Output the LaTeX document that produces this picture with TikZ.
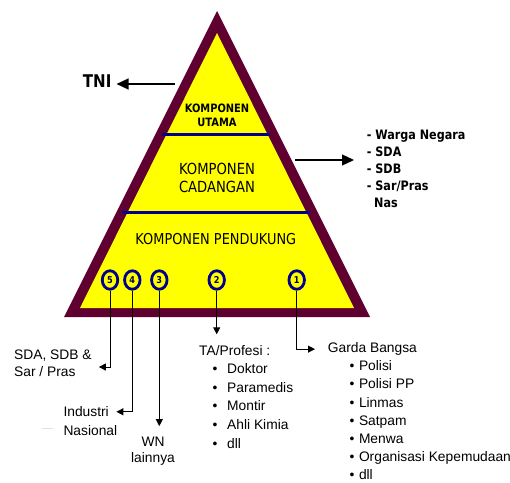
\documentclass[tikz,border=0pt]{standalone}
\usepackage{fontspec}
\setmainfont{Liberation Sans}
\newfontfamily\tahoma{DejaVu Sans}[FakeStretch=0.86]
\usetikzlibrary{arrows.meta, calc, positioning, shapes.geometric}

\definecolor{pyrmaroon}{RGB}{96,0,48}
\definecolor{pyrnavy}{RGB}{0,0,140}
\definecolor{pyryellow}{RGB}{255,255,0}

\tikzset{
  lbl/.style={inner sep=0pt, font=\fontsize{13.8}{17.5}\selectfont},
  rlist/.style={inner sep=0pt, font=\tahoma\bfseries\fontsize{13}{15}\selectfont},
  layer/.style={align=center, inner sep=0pt},
  num/.style={ellipse, draw=pyrnavy, line width=2.8pt, fill=pyryellow, inner sep=0pt,
    minimum width=15.5pt, minimum height=18.5pt,
    font=\tahoma\bfseries\fontsize{9.5}{9.5}\selectfont, text=pyrnavy!50!black},
  divider/.style={pyrnavy, line width=3pt},
  arr/.style={-{Triangle[length=7pt,width=7pt]}, line width=0.9pt},
  bigarr/.style={-{Triangle[length=12pt,width=11pt]}, line width=1.3pt}
}

\begin{document}
\begin{tikzpicture}[x=1pt, y=-1pt]
    \useasboundingbox (0,0) rectangle (510,482);

    % Pyramid
    \fill[pyrmaroon] (217,11) -- (64,317) -- (370,317) -- cycle;
    \fill[pyryellow] (217,33) -- (80,308) -- (354,308) -- cycle;
    \draw[divider] (162,134) -- (270,134);
    \draw[divider] (122,212) -- (310,212);

    % Layers
    \node[layer, font=\tahoma\bfseries\fontsize{11.5}{14.3}\selectfont] (utama) at (217,115.3) {KOMPONEN\\UTAMA};
    \node[layer, font=\tahoma\fontsize{15.3}{17.3}\selectfont] (cadangan) at (217,177.8) {KOMPONEN\\CADANGAN};
    \node[layer, font=\tahoma\fontsize{15}{17}\selectfont] (pendukung) at (215.8,239.5) {KOMPONEN PENDUKUNG};

    % Numbers
    \foreach \n/\x in {5/110, 4/132.3, 3/159.3, 2/216.7, 1/296.7}
        \node[num] (c\n) at (\x,280) {\n};

    % TNI
    \node[inner sep=0pt, anchor=base west, font=\tahoma\bfseries\fontsize{17.5}{17.5}\selectfont] (tni) at (82.7,87.3) {TNI};
    \coordinate (tni start) at (175,84);
    \draw[bigarr] (tni start) -- ([xshift=5pt]tni.east |- tni start);

    % Cadangan list
    \foreach \t [count=\i] in {- Warga Negara, - SDA, - SDB, - Sar/Pras}
        \node[rlist, anchor=base west] (rl\i) at (366.7,{139.3+17.1*(\i-1)}) {\t};
    \node[rlist, anchor=base west] (rl5) at (374,207) {Nas};
    \coordinate (cad start) at (295,160);
    \coordinate (cad tip) at (354,160);
    \draw[bigarr] (cad start) -- (cad tip);

    % 5
    \node[lbl, align=left, anchor=west] (sda) at (14,363) {SDA, SDB \&\\Sar / Pras};
    \draw[arr] (c5) |- ([xshift=7pt,yshift=-4pt]sda.east);

    % 4
    \node[lbl, anchor=base west] (ind1) at (63.3,416.7) {Industri};
    \node[lbl, anchor=base west] (ind2) at (63.3,435) {Nasional};
    \draw[arr] (c4) |- ([xshift=7.4pt]ind1.east);
    \draw[black!12, line width=1pt] (41.7,428.3) -- (53.3,428.3);

    % 3
    \node[lbl, align=center, anchor=north, font=\fontsize{13.8}{16}\selectfont] (wn) at (153,437.1) {WN\\lainnya};
    \draw[arr] (c3) -- ($(c3 |- wn.north)+(0,-11)$);

    % 2
    \node[lbl, anchor=base west] (ta) at (199,355) {TA/Profesi :};
    \draw[arr] (c2) -- ($(c2 |- ta.north)+(0,-10.5)$);
    \foreach \t [count=\i] in {Doktor, Paramedis, Montir, Ahli Kimia, dll}
        \node[lbl, anchor=base west] (ta\i) at (212.3,{355+18.6*\i}) {\makebox[14.7pt][l]{\textbullet}\t};

    % 1
    \node[lbl, anchor=base west] (garda) at (327.7,352.7) {Garda Bangsa};
    \draw[arr] (c1) |- ([xshift=-12.7pt]garda.west);
    \foreach \t [count=\i] in {Polisi, Polisi PP, Linmas, Satpam, Menwa, Organisasi Kepemudaan, dll}
        \node[lbl, anchor=base west] (gb\i) at (349.3,{352.7+18.1*\i}) {\makebox[9.5pt][l]{\textbullet}\t};

\end{tikzpicture}
\end{document}
